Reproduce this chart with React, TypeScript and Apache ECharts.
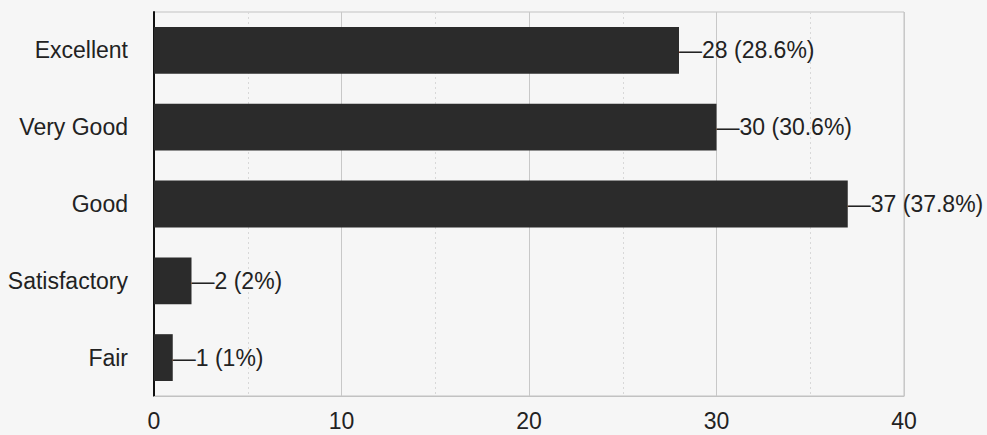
import React, { useEffect, useRef } from "react";
import * as echarts from "echarts";

const categories = ["Excellent", "Very Good", "Good", "Satisfactory", "Fair"];
const counts = [28, 30, 37, 2, 1];
const percents = ["28.6%", "30.6%", "37.8%", "2%", "1%"];
const xTicks = [0, 10, 20, 30, 40];

export default function App() {
  const ref = useRef<HTMLDivElement>(null);
  useEffect(() => {
    if (!ref.current) return;
    const chart = echarts.init(ref.current, undefined, { renderer: "svg" });
    const font = "Arial, 'Liberation Sans', sans-serif";
    chart.setOption({
      animation: false,
      backgroundColor: "#f6f6f6",
      grid: {
        left: 154,
        right: 83,
        top: 12,
        bottom: 39,
        show: true,
        borderColor: "#c2c2c2",
        borderWidth: 1,
      },
      xAxis: {
        type: "value",
        min: xTicks[0],
        max: xTicks[xTicks.length - 1],
        interval: 10,
        axisLine: { show: true, lineStyle: { color: "#c2c2c2", width: 1 } },
        axisTick: { show: false },
        axisLabel: {
          color: "#222",
          fontSize: 23,
          fontFamily: font,
          margin: 13,
        },
        splitLine: { show: true, lineStyle: { color: "#c8c8c8", width: 1 } },
        minorTick: { show: false, splitNumber: 2 },
        minorSplitLine: {
          show: true,
          lineStyle: { color: "#d8d8d8", width: 1, type: [2, 3] },
        },
      },
      yAxis: {
        type: "category",
        data: categories,
        inverse: true,
        axisLine: { show: true, lineStyle: { color: "#111", width: 2 } },
        axisTick: { show: false },
        axisLabel: {
          color: "#222",
          fontSize: 23,
          fontFamily: font,
          margin: 26,
        },
        splitLine: { show: false },
      },
      series: [
        {
          type: "bar",
          data: counts,
          barWidth: "61%",
          itemStyle: { color: "#2b2b2b" },
          label: {
            show: true,
            position: "right",
            distance: 0,
            color: "#222",
            fontSize: 23,
            fontFamily: font,
            formatter: (p: any) => `\u2014${p.value} (${percents[p.dataIndex]})`,
          },
        },
      ],
    });
    return () => chart.dispose();
  }, []);
  return (
    <div
      ref={ref}
      style={{ position: "fixed", left: 0, top: 0, width: 987, height: 435 }}
    />
  );
}
